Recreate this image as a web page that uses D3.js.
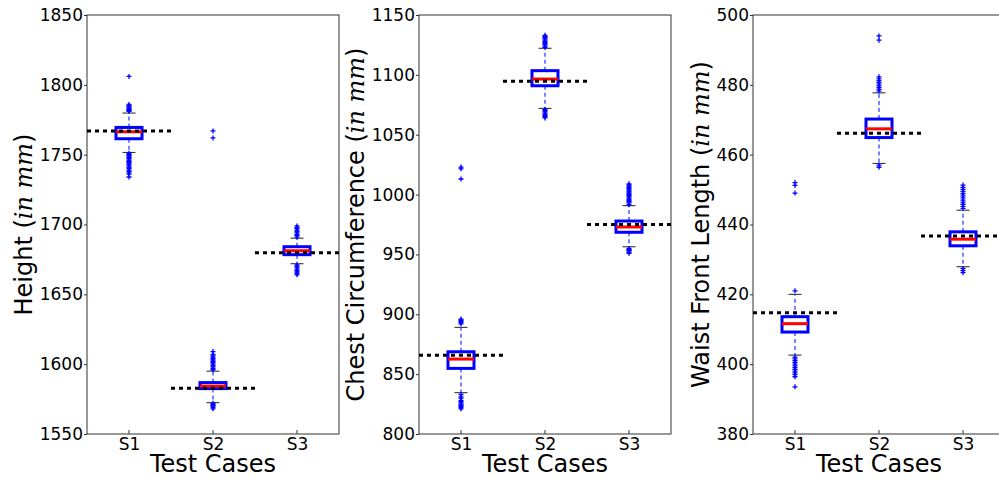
<!DOCTYPE html>
<html>
<head>
<meta charset="utf-8">
<script src="https://cdn.jsdelivr.net/npm/d3@7"></script>
<style>
  body { margin: 0; background: #fff; }
  text { font-family: "DejaVu Sans", sans-serif; }
</style>
</head>
<body>
<svg id="chart" width="999" height="478"></svg>
<script>
// testfall på x-axeln
const CASES = ["S1", "S2", "S3"];

// panelrubriker och y-domäner
const LABELS = ["Height", "Chest Circumference", "Waist Front Length"];
const DOMAINS = [[1550, 1850], [800, 1150], [380, 500]];
const TICKS = [
  [1550, 1600, 1650, 1700, 1750, 1800, 1850],
  [800, 850, 900, 950, 1000, 1050, 1100, 1150],
  [380, 400, 420, 440, 460, 480, 500]
];

// lådstatistik: [nedre morrhår, q1, median, q3, övre morrhår]
const HEIGHT_STATS = [
  [1751.6, 1761.4, 1766.4, 1769.5, 1779.8],
  [1572.4, 1582.5, 1584.3, 1586.8, 1595.0],
  [1671.9, 1678.4, 1681.2, 1684.1, 1690.2]
];
const CHEST_STATS = [
  [834.5, 854.8, 862.6, 868.7, 889.1],
  [1072.0, 1090.9, 1096.5, 1103.5, 1122.2],
  [956.4, 968.5, 972.9, 977.9, 990.7]
];
const WAIST_STATS = [
  [402.6, 409.2, 411.6, 413.6, 420.0],
  [457.5, 464.9, 467.4, 470.2, 477.7],
  [427.9, 433.9, 435.8, 437.9, 444.1]
];

// referensvärden (streckad linje)
const HEIGHT_REF = [1767, 1582.8, 1679.8];
const CHEST_REF = [865.7, 1094.6, 975.1];
const WAIST_REF = [414.7, 466.1, 436.7];

// avvikare
const HEIGHT_OUT = [
  [1806, 1786, 1785, 1784.5, 1784, 1783, 1782.5, 1782, 1781.5, 1781,
   1751, 1750, 1749.5, 1749, 1748, 1747.5, 1747, 1746, 1745, 1744.5, 1744, 1743,
   1742, 1741, 1740, 1739, 1738, 1737, 1736, 1734],
  [1767, 1762, 1596, 1597, 1598, 1599, 1600, 1601, 1602, 1603, 1604, 1605, 1606, 1607, 1609,
   1572, 1571, 1570.5, 1570, 1569, 1568],
  [1691, 1692, 1693, 1694, 1695, 1696, 1697, 1698, 1699,
   1671, 1670, 1669, 1668, 1667, 1666, 1665, 1664]
];
const CHEST_OUT = [
  [1023, 1021.5, 1013, 896, 895, 894, 893, 892,
   833, 831, 830, 828, 827, 826, 825, 824, 823, 822, 821],
  [1123, 1124, 1125, 1126, 1127, 1128, 1129, 1130, 1131, 1132, 1133,
   1071, 1070, 1069, 1068, 1067, 1066, 1065, 1064],
  [991.5, 993, 994, 995, 996, 997, 998, 999, 1000, 1001, 1002, 1003, 1004, 1005,
   1006, 1007, 1008, 1009, 955, 954, 953.5, 953, 952, 951]
];
const WAIST_OUT = [
  [421, 449, 451.2, 452, 402, 401.5, 401, 400.5, 400, 399.5, 399, 398.5, 398,
   397.5, 397, 396.4, 393.5],
  [478.2, 478.7, 479.2, 479.7, 480.2, 480.7, 481.2, 481.7, 482.3, 492.8, 494,
   457, 456.4],
  [444.6, 445.2, 445.8, 446.4, 447, 447.6, 448.2, 448.8, 449.4, 450, 450.6, 451.3,
   427.4, 426.8, 426.2]
];

const STATS = [HEIGHT_STATS, CHEST_STATS, WAIST_STATS];
const REFS = [HEIGHT_REF, CHEST_REF, WAIST_REF];
const OUTS = [HEIGHT_OUT, CHEST_OUT, WAIST_OUT];

const svg = d3.select("#chart");
const panelLeft = [87, 419, 753];
const labelOffset = [-55, -55, -44];
const panelW = 252;
const yTop = 15, yBottom = 434;
const boxW = 26, capW = 13;

LABELS.forEach((label, p) => {
  const g = svg.append("g").attr("transform", `translate(${panelLeft[p]},0)`);
  const x = d3.scalePoint().domain(CASES).range([0, panelW]).padding(0.5);
  const y = d3.scaleLinear().domain(DOMAINS[p]).range([yBottom, yTop]);

  // ram
  g.append("rect")
    .attr("x", 0).attr("y", yTop)
    .attr("width", panelW).attr("height", yBottom - yTop)
    .attr("fill", "none").attr("stroke", "#333").attr("stroke-width", 1);

  // y-axel
  const yAxis = g.append("g")
    .call(d3.axisLeft(y).tickValues(TICKS[p]).tickSize(3).tickPadding(1).tickFormat(d3.format("d")));
  yAxis.select(".domain").remove();
  yAxis.selectAll("line").attr("stroke", "#333");
  yAxis.selectAll("text").style("font-size", "17px").attr("fill", "#000");

  // x-axel
  const xAxis = g.append("g").attr("transform", `translate(0,${yBottom})`)
    .call(d3.axisBottom(x).tickSize(0).tickPadding(4));
  xAxis.select(".domain").remove();
  xAxis.selectAll("text").style("font-size", "17px").attr("fill", "#000").attr("dy", "0.71em");
  g.selectAll(".xtick").data(CASES).enter().append("line")
    .attr("x1", d => x(d)).attr("x2", d => x(d))
    .attr("y1", yBottom).attr("y2", yBottom - 4)
    .attr("stroke", "#333");

  CASES.forEach((c, i) => {
    const [lo, q1, med, q3, hi] = STATS[p][i];
    const cx = x(c);

    // morrhår
    g.append("line")
      .attr("x1", cx).attr("x2", cx).attr("y1", y(q3)).attr("y2", y(hi))
      .attr("stroke", "#3344ff").attr("stroke-width", 1.3).attr("stroke-dasharray", "4,3");
    g.append("line")
      .attr("x1", cx).attr("x2", cx).attr("y1", y(q1)).attr("y2", y(lo))
      .attr("stroke", "#3344ff").attr("stroke-width", 1.3).attr("stroke-dasharray", "4,3");
    [lo, hi].forEach(v => {
      g.append("line")
        .attr("x1", cx - capW / 2).attr("x2", cx + capW / 2)
        .attr("y1", y(v)).attr("y2", y(v))
        .attr("stroke", "#222").attr("stroke-width", 1);
    });

    // avvikare som plustecken
    OUTS[p][i].forEach(v => {
      g.append("path")
        .attr("d", `M${cx - 2.5},${y(v)}h5M${cx},${y(v) - 2.5}v5`)
        .attr("stroke", "#0000ff").attr("stroke-width", 1.3);
    });

    // låda
    g.append("rect")
      .attr("x", cx - boxW / 2).attr("y", y(q3))
      .attr("width", boxW).attr("height", y(q1) - y(q3))
      .attr("fill", "none").attr("stroke", "#0000ff").attr("stroke-width", 3);

    // median
    g.append("line")
      .attr("x1", cx - boxW / 2).attr("x2", cx + boxW / 2)
      .attr("y1", y(med)).attr("y2", y(med))
      .attr("stroke", "#ff0000").attr("stroke-width", 3);

    // referenslinje
    const step = x.step();
    g.append("line")
      .attr("x1", cx - step / 2).attr("x2", cx + step / 2)
      .attr("y1", y(REFS[p][i])).attr("y2", y(REFS[p][i]))
      .attr("stroke", "#000").attr("stroke-width", 3).attr("stroke-dasharray", "4,4");
  });

  // y-etikett
  const yl = g.append("text")
    .attr("transform", `translate(${labelOffset[p]},${(yTop + yBottom) / 2}) rotate(-90)`)
    .attr("text-anchor", "middle")
    .style("font-size", "24px");
  yl.append("tspan").text(label + " (");
  yl.append("tspan").style("font-family", "'DejaVu Serif', serif").style("font-style", "italic").text("in mm");
  yl.append("tspan").text(")");

  // x-etikett
  g.append("text")
    .attr("x", panelW / 2).attr("y", 472)
    .attr("text-anchor", "middle")
    .style("font-size", "24px")
    .text("Test Cases");
});
</script>
</body>
</html>
